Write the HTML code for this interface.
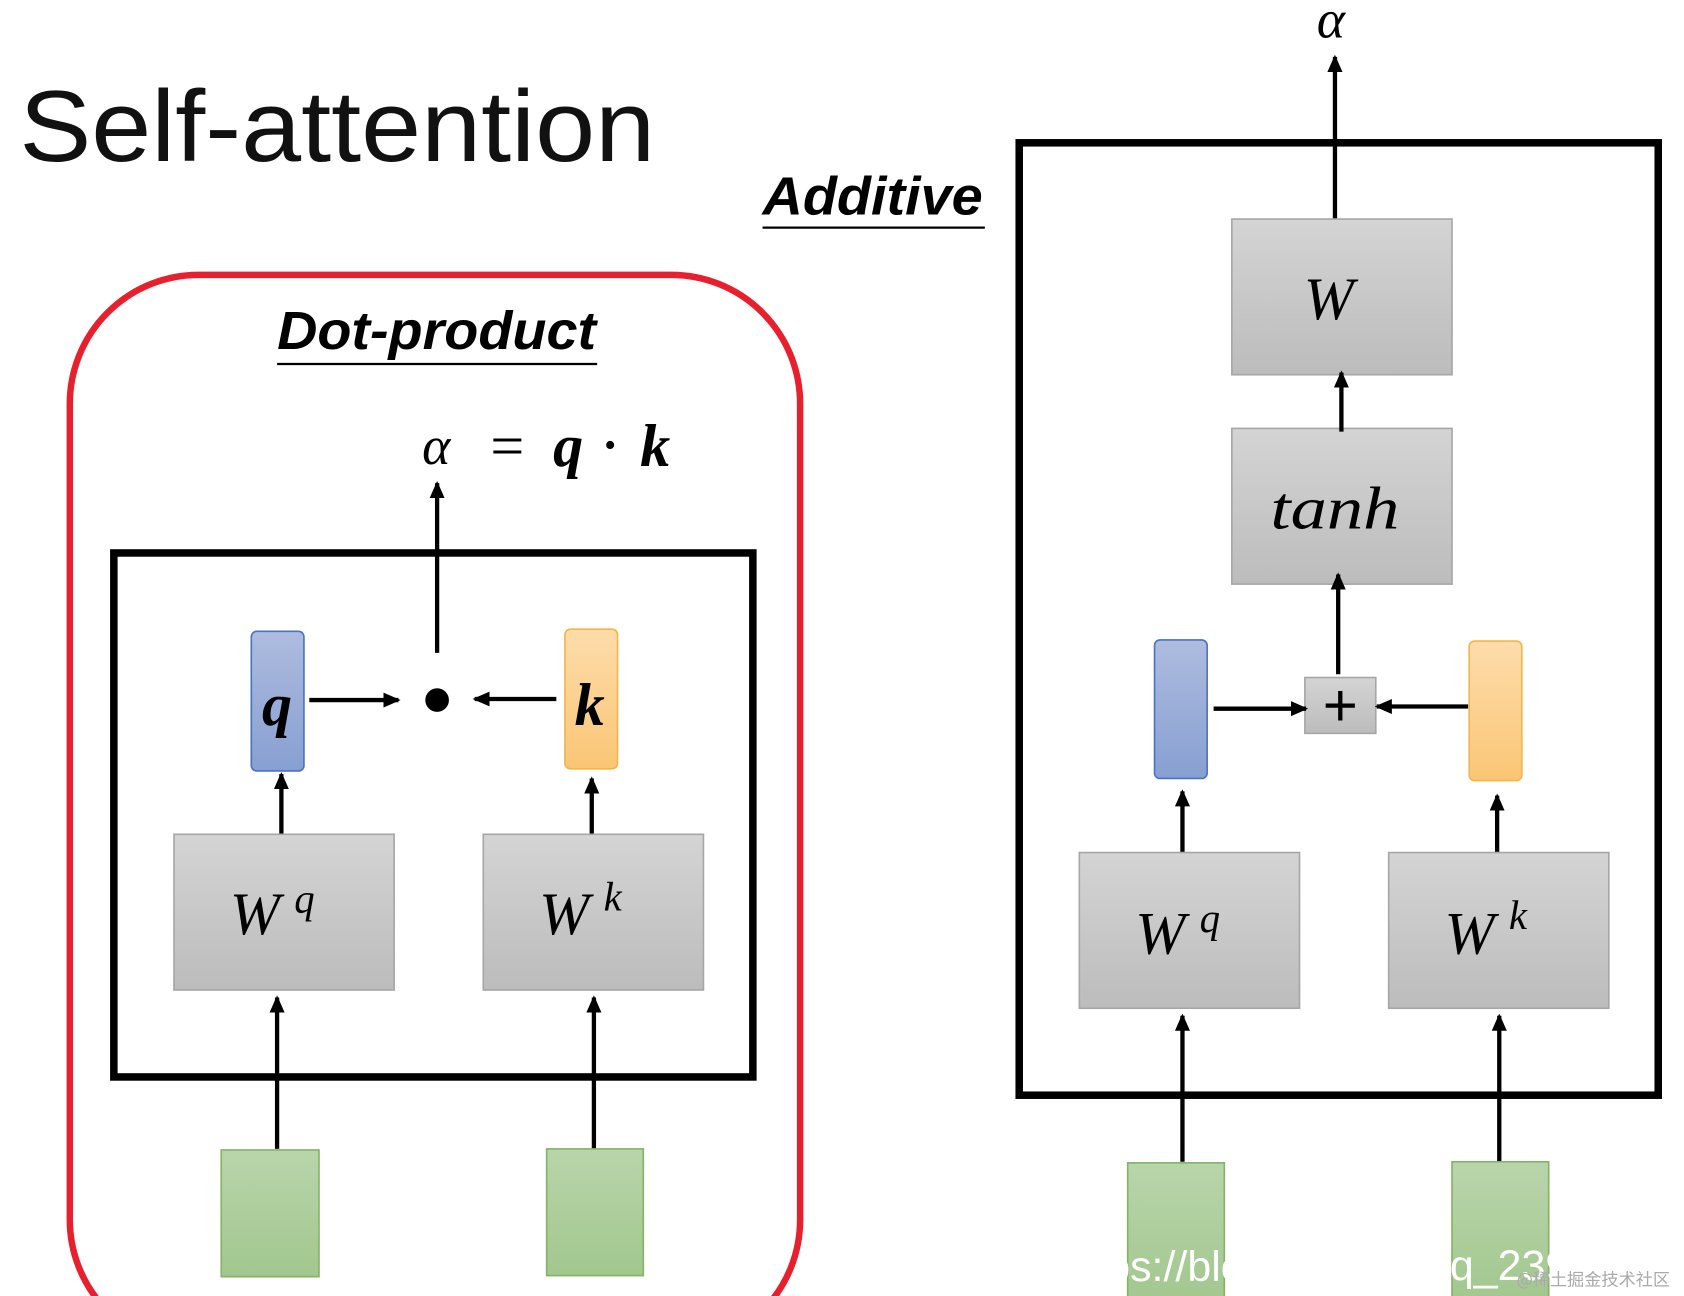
<!DOCTYPE html>
<html><head><meta charset="utf-8"><style>
html,body{margin:0;padding:0;background:#fff;}
svg{display:block}
.ser{font-family:"Liberation Serif","DejaVu Serif",serif;font-style:italic}
.bi{font-family:"Liberation Serif","DejaVu Serif",serif;font-style:italic;font-weight:bold}
.sans{font-family:"Liberation Sans",sans-serif}
</style></head><body>
<svg width="1684" height="1296" viewBox="0 0 1568 1207" preserveAspectRatio="none" xmlns="http://www.w3.org/2000/svg">
<defs>
<linearGradient id="g" x1="0" y1="0" x2="0" y2="1"><stop offset="0" stop-color="#d4d4d4"/><stop offset="1" stop-color="#bcbcbc"/></linearGradient>
<linearGradient id="gr" x1="0" y1="0" x2="0" y2="1"><stop offset="0" stop-color="#b9d5ab"/><stop offset="1" stop-color="#a2c78e"/></linearGradient>
<linearGradient id="bl" x1="0" y1="0" x2="0" y2="1"><stop offset="0" stop-color="#aebcdf"/><stop offset="1" stop-color="#879fd1"/></linearGradient>
<linearGradient id="or" x1="0" y1="0" x2="0" y2="1"><stop offset="0" stop-color="#fddcab"/><stop offset="1" stop-color="#fac675"/></linearGradient>
<marker id="a" markerWidth="16" markerHeight="14" refX="14" refY="7" orient="auto" markerUnits="userSpaceOnUse"><path d="M0,0 L16,7 L0,14 Z" fill="#000"/></marker>
</defs>
<text x="18" y="150" class="sans" font-size="94" fill="#111" textLength="592" lengthAdjust="spacingAndGlyphs">Self-attention</text>

<!-- Dot-product -->
<rect x="65" y="256" width="680" height="1000" rx="120" ry="120" fill="none" stroke="#e8202e" stroke-width="6"/>
<text x="258" y="325" class="sans" font-size="50" font-style="italic" font-weight="bold" textLength="297" lengthAdjust="spacingAndGlyphs">Dot-product</text>
<line x1="258" y1="339" x2="556" y2="339" stroke="#000" stroke-width="2"/>
<text x="393" y="432" class="ser" font-size="50">α</text>
<text x="453" y="434" class="ser" font-size="56" font-style="normal">=</text>
<text x="515" y="434" class="bi" font-size="56">q</text>
<text x="562" y="430" class="ser" font-size="46" font-style="normal" font-weight="bold">·</text>
<text x="596" y="434" class="bi" font-size="56">k</text>
<rect x="106" y="515" width="595" height="488" fill="none" stroke="#000" stroke-width="7"/>
<line x1="407" y1="608" x2="407" y2="450" stroke="#000" stroke-width="4" marker-end="url(#a)"/>
<rect x="234" y="588" width="49" height="130" rx="5" fill="url(#bl)" stroke="#4a72c2" stroke-width="1.5"/>
<text x="244" y="675" class="bi" font-size="56">q</text>
<rect x="526" y="586" width="49" height="130" rx="5" fill="url(#or)" stroke="#f2b54a" stroke-width="1.5"/>
<text x="535" y="675" class="bi" font-size="56">k</text>
<line x1="288" y1="652" x2="371" y2="652" stroke="#000" stroke-width="4" marker-end="url(#a)"/>
<circle cx="407" cy="652" r="11" fill="#000"/>
<line x1="518" y1="651" x2="442" y2="651" stroke="#000" stroke-width="4" marker-end="url(#a)"/>
<line x1="262" y1="793" x2="262" y2="721" stroke="#000" stroke-width="4" marker-end="url(#a)"/>
<line x1="551" y1="797" x2="551" y2="725" stroke="#000" stroke-width="4" marker-end="url(#a)"/>
<rect x="162" y="777" width="205" height="145" fill="url(#g)" stroke="#a6a6a6" stroke-width="1.5"/>
<rect x="450" y="777" width="205" height="145" fill="url(#g)" stroke="#a6a6a6" stroke-width="1.5"/>
<text x="214" y="870" class="ser" font-size="56">W</text><text x="274" y="850" class="ser" font-size="38">q</text>
<text x="502" y="870" class="ser" font-size="56">W</text><text x="562" y="848" class="ser" font-size="38">k</text>
<line x1="258" y1="1070" x2="258" y2="929" stroke="#000" stroke-width="4" marker-end="url(#a)"/>
<line x1="553" y1="1070" x2="553" y2="929" stroke="#000" stroke-width="4" marker-end="url(#a)"/>
<rect x="206" y="1071" width="91" height="118" fill="url(#gr)" stroke="#82b366" stroke-width="1.5"/>
<rect x="509" y="1070" width="90" height="118" fill="url(#gr)" stroke="#82b366" stroke-width="1.5"/>

<!-- Additive -->
<text x="710" y="200" class="sans" font-size="50" font-style="italic" font-weight="bold" textLength="205" lengthAdjust="spacingAndGlyphs">Additive</text>
<line x1="710" y1="212" x2="917" y2="212" stroke="#000" stroke-width="2"/>
<text x="1226" y="35" class="ser" font-size="50">α</text>
<line x1="1243" y1="205" x2="1243" y2="53" stroke="#000" stroke-width="4" marker-end="url(#a)"/>
<rect x="949" y="133" width="595" height="887" fill="none" stroke="#000" stroke-width="7"/>
<rect x="1147" y="204" width="205" height="145" fill="url(#g)" stroke="#a6a6a6" stroke-width="1.5"/>
<text x="1214" y="297" class="ser" font-size="56">W</text>
<rect x="1147" y="399" width="205" height="145" fill="url(#g)" stroke="#a6a6a6" stroke-width="1.5"/>
<text x="1183" y="492" class="ser" font-size="56" textLength="120" lengthAdjust="spacingAndGlyphs">tanh</text>
<line x1="1249" y1="402" x2="1249" y2="347" stroke="#000" stroke-width="4" marker-end="url(#a)"/>
<line x1="1246" y1="628" x2="1246" y2="535" stroke="#000" stroke-width="4" marker-end="url(#a)"/>
<rect x="1215" y="631" width="66" height="52" fill="url(#g)" stroke="#a6a6a6" stroke-width="1.5"/>
<text x="1248" y="676" class="sans" font-size="56" text-anchor="middle">+</text>
<rect x="1075" y="596" width="49" height="129" rx="5" fill="url(#bl)" stroke="#4a72c2" stroke-width="1.5"/>
<rect x="1368" y="597" width="49" height="130" rx="5" fill="url(#or)" stroke="#f2b54a" stroke-width="1.5"/>
<line x1="1130" y1="660" x2="1216" y2="660" stroke="#000" stroke-width="4" marker-end="url(#a)"/>
<line x1="1367" y1="658" x2="1282" y2="658" stroke="#000" stroke-width="4" marker-end="url(#a)"/>
<line x1="1101" y1="808" x2="1101" y2="737" stroke="#000" stroke-width="4" marker-end="url(#a)"/>
<line x1="1394" y1="812" x2="1394" y2="741" stroke="#000" stroke-width="4" marker-end="url(#a)"/>
<rect x="1005" y="794" width="205" height="145" fill="url(#g)" stroke="#a6a6a6" stroke-width="1.5"/>
<rect x="1293" y="794" width="205" height="145" fill="url(#g)" stroke="#a6a6a6" stroke-width="1.5"/>
<text x="1057" y="888" class="ser" font-size="56">W</text><text x="1117" y="868" class="ser" font-size="38">q</text>
<text x="1345" y="888" class="ser" font-size="56">W</text><text x="1405" y="865" class="ser" font-size="38">k</text>
<line x1="1101" y1="1082" x2="1101" y2="946" stroke="#000" stroke-width="4" marker-end="url(#a)"/>
<line x1="1396" y1="1082" x2="1396" y2="946" stroke="#000" stroke-width="4" marker-end="url(#a)"/>
<rect x="1050" y="1083" width="90" height="130" fill="url(#gr)" stroke="#82b366" stroke-width="1.5"/>
<rect x="1352" y="1082" width="90" height="130" fill="url(#gr)" stroke="#82b366" stroke-width="1.5"/>
<text x="1030" y="1193" class="sans" font-size="40" fill="#fff">ps://blo</text>
<text x="1350" y="1192" class="sans" font-size="40" fill="#fff">q_239</text>
<text x="1412" y="1197" font-family="'Noto Sans CJK SC',sans-serif" font-size="16" fill="#aaa">@稀土掘金技术社区</text>
</svg>
</body></html>
